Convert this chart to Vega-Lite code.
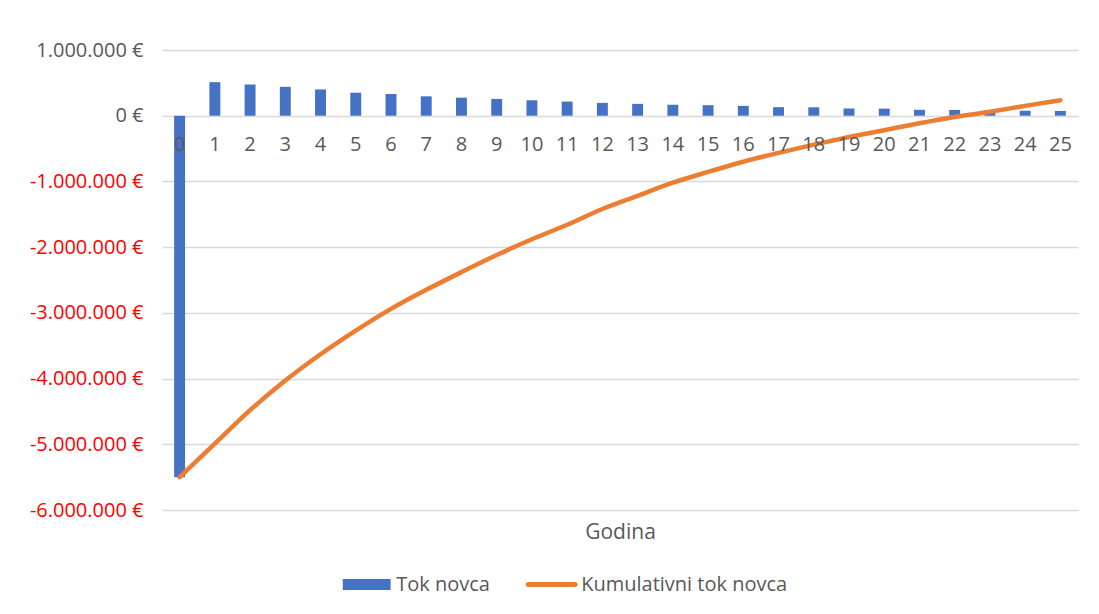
{
  "$schema": "https://vega.github.io/schema/vega-lite/v6.json",
  "width": 916,
  "height": 460,
  "autosize": {"type": "none"},
  "padding": {"left": 162, "top": 50, "right": 21, "bottom": 104},
  "background": "white",
  "config": {
    "font": "Open Sans",
    "view": {"stroke": null},
    "locale": {"number": {"decimal": ",", "thousands": ".", "grouping": [3], "currency": ["", " €"], "minus": "-"}}
  },
  "data": {"values": [
    {"godina": 0, "tok": -5500000, "kum": -5500000},
    {"godina": 1, "tok": 510000, "kum": -4990000},
    {"godina": 2, "tok": 475000, "kum": -4480000},
    {"godina": 3, "tok": 440000, "kum": -4030000},
    {"godina": 4, "tok": 400000, "kum": -3630000},
    {"godina": 5, "tok": 350000, "kum": -3270000},
    {"godina": 6, "tok": 330000, "kum": -2940000},
    {"godina": 7, "tok": 295000, "kum": -2650000},
    {"godina": 8, "tok": 275000, "kum": -2380000},
    {"godina": 9, "tok": 255000, "kum": -2120000},
    {"godina": 10, "tok": 235000, "kum": -1880000},
    {"godina": 11, "tok": 215000, "kum": -1660000},
    {"godina": 12, "tok": 195000, "kum": -1420000},
    {"godina": 13, "tok": 180000, "kum": -1220000},
    {"godina": 14, "tok": 165000, "kum": -1020000},
    {"godina": 15, "tok": 160000, "kum": -855000},
    {"godina": 16, "tok": 150000, "kum": -700000},
    {"godina": 17, "tok": 130000, "kum": -565000},
    {"godina": 18, "tok": 128000, "kum": -440000},
    {"godina": 19, "tok": 110000, "kum": -325000},
    {"godina": 20, "tok": 108000, "kum": -220000},
    {"godina": 21, "tok": 90000, "kum": -115000},
    {"godina": 22, "tok": 88000, "kum": -20000},
    {"godina": 23, "tok": 80000, "kum": 60000},
    {"godina": 24, "tok": 75000, "kum": 150000},
    {"godina": 25, "tok": 73000, "kum": 236000}
  ]},
  "layer": [
    {
      "mark": {"type": "bar", "color": "#4472C4"},
      "encoding": {
        "x": {
          "field": "godina", "type": "ordinal", "sort": null,
          "scale": {"paddingInner": 0.69},
          "axis": {
            "orient": "bottom", "offset": -394.3, "labelAngle": 0, "zindex": 1,
            "domain": false, "ticks": false, "grid": false,
            "labelColor": "#595959", "labelFontSize": 20, "labelPadding": 19,
            "title": "Godina", "titleColor": "#595959", "titleFontSize": 21,
            "titleFontWeight": "normal", "titlePadding": 367
          }
        },
        "y": {
          "field": "tok", "type": "quantitative",
          "scale": {"domain": [-6000000, 1000000], "nice": false, "zero": false},
          "axis": {
            "values": [1000000, 0, -1000000, -2000000, -3000000, -4000000, -5000000, -6000000],
            "format": "$,d", "title": null, "domain": false, "ticks": false,
            "grid": true, "gridColor": "#D9D9D9", "gridWidth": 1.5,
            "labelFontSize": 20, "labelPadding": 19,
            "labelColor": {"condition": {"test": "datum.value < 0", "value": "#FF0000"}, "value": "#595959"}
          }
        },
        "color": {
          "datum": "Tok novca", "type": "nominal",
          "scale": {"domain": ["Tok novca", "Kumulativni tok novca"], "range": ["#4472C4", "#ED7D31"]},
          "legend": {
            "orient": "none", "legendX": 178.7, "legendY": 508.5, "direction": "horizontal",
            "title": null, "labelFontSize": 20, "labelColor": "#595959", "labelLimit": 400,
            "symbolSize": 2704, "labelOffset": 3.5, "columnPadding": 34,
            "encode": {"symbols": {"update": {
              "shape": {"signal": "datum.value === 'Tok novca' ? 'M-0.92,-0.212H0.92V0.212H-0.92Z' : 'M-0.904,-0.096H0.904A0.096,0.096 0 0 1 0.904,0.096H-0.904A0.096,0.096 0 0 1 -0.904,-0.096Z'"},
              "fill": {"signal": "scale('color', datum.value)"},
              "strokeWidth": {"value": 0},
              "opacity": {"value": 1}
            }}}
          }
        }
      }
    },
    {
      "mark": {"type": "line", "strokeWidth": 4.5, "strokeCap": "round", "strokeJoin": "round", "interpolate": "monotone"},
      "encoding": {
        "x": {"field": "godina", "type": "ordinal", "sort": null},
        "y": {"field": "kum", "type": "quantitative"},
        "color": {"datum": "Kumulativni tok novca", "type": "nominal"}
      }
    }
  ]
}
